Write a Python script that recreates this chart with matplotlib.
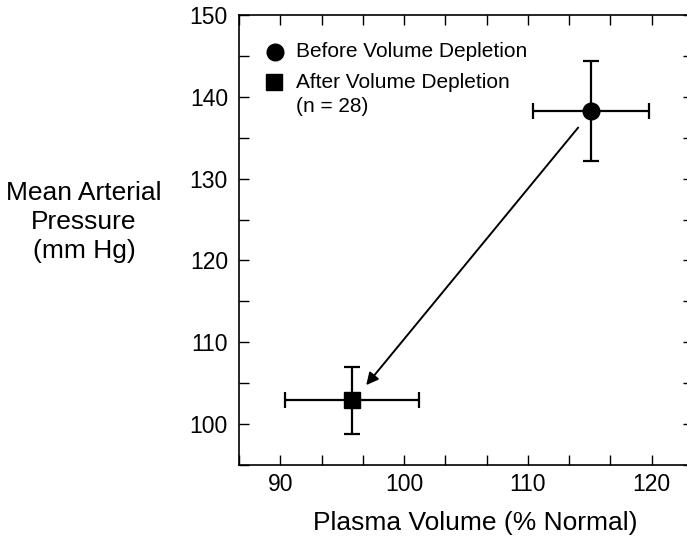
import matplotlib
matplotlib.use("Agg")
import matplotlib.pyplot as plt
import numpy as np

plt.rcParams['font.family'] = ['Liberation Sans', 'DejaVu Sans']

labels = ["Before Volume Depletion", "After Volume Depletion"]
plasma_volume = [115.1, 95.8]
plasma_err = [4.7, 5.4]
map_values = [138.3, 102.9]
map_err = [6.1, 4.1]
markers = ["o", "s"]

fig = plt.figure(figsize=(6.87, 5.37), dpi=100)
ax = fig.add_axes([239/687, (537-465)/537, (693-239)/687, (465-15)/537])

for xv, yv, xe, ye, m, lab in zip(plasma_volume, map_values, plasma_err, map_err, markers, labels):
    ax.errorbar(xv, yv, xerr=xe, yerr=ye, fmt=m, color='black', ms=12,
                ecolor='black', elinewidth=1.6, capsize=6, capthick=1.6, label=lab, zorder=3)

# arrow from before to after
ax.annotate("", xy=(plasma_volume[1] + 1.0, map_values[1] + 1.6),
            xytext=(plasma_volume[0] - 0.9, map_values[0] - 1.8),
            arrowprops=dict(arrowstyle="-|>", color='black', lw=1.4, mutation_scale=18))

ax.set_xlim(86.667, 123.333)
ax.set_ylim(95, 150)
ax.set_xticks([90, 100, 110, 120])
ax.set_xticks(np.arange(86.667, 123.4, 10/3), minor=True)
ax.set_yticks(np.arange(100, 151, 10))
ax.set_yticks(np.arange(95, 151, 5), minor=True)
ax.tick_params(which='both', direction='in', top=True, right=True, length=7, width=1, labelsize=16.5)
ax.tick_params(axis='x', pad=6)
ax.tick_params(axis='y', pad=8)
for s in ax.spines.values():
    s.set_linewidth(1.2)

legend_fs = 15
ax.plot([0.079], [0.918], transform=ax.transAxes, marker='o', ms=12, color='black', ls='none', clip_on=False)
ax.plot([0.078], [0.851], transform=ax.transAxes, marker='s', ms=11.5, color='black', ls='none', clip_on=False)
ax.text(0.126, 0.918, labels[0], transform=ax.transAxes, fontsize=legend_fs, va='center')
ax.text(0.126, 0.851, labels[1], transform=ax.transAxes, fontsize=legend_fs, va='center')
ax.text(0.126, 0.796, "(n = 28)", transform=ax.transAxes, fontsize=legend_fs, va='center')

fig.text(475/687, 1 - 523/537, "Plasma Volume (% Normal)", ha='center', va='center', fontsize=19)
fig.text(84/687, 1 - 222/537, "Mean Arterial\nPressure\n(mm Hg)", ha='center', va='center',
         fontsize=19, linespacing=1.25)

fig.savefig("out.png", dpi=100)
